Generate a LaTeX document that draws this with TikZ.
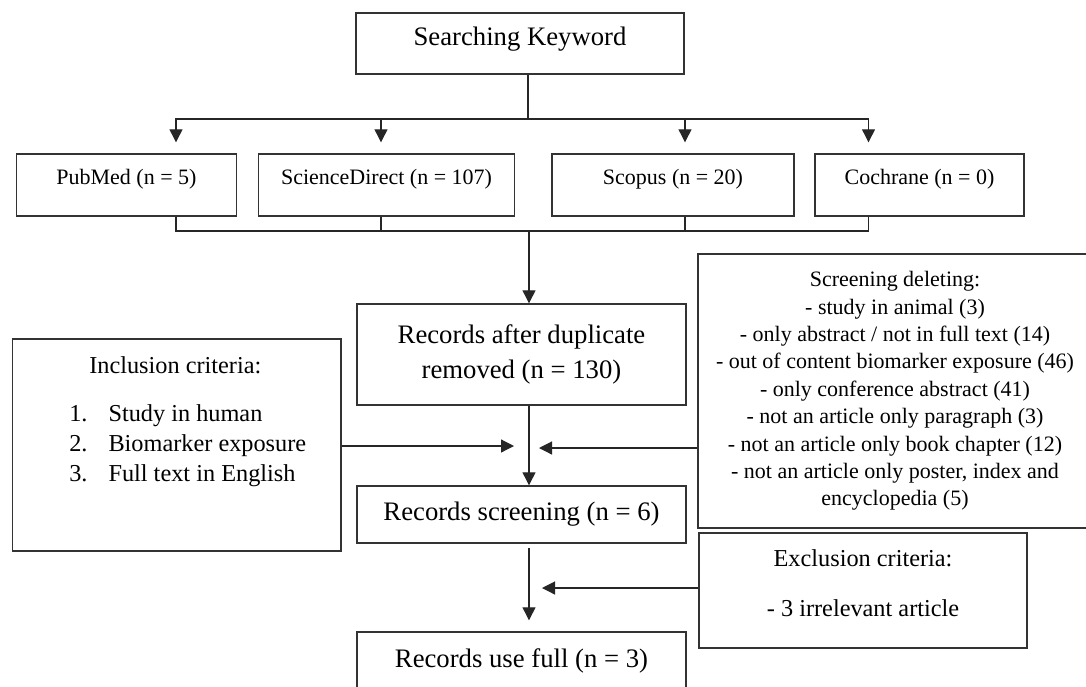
\documentclass[tikz,border=0pt]{standalone}
\usepackage{fontspec}
\setmainfont{Liberation Serif}
\usetikzlibrary{arrows.meta}

\newcommand{\bigtxt}{\fontsize{26.7}{35.7}\selectfont}
\newcommand{\midtxt}{\fontsize{24.3}{30}\selectfont}
\newcommand{\smalltxt}{\fontsize{22}{27.4}\selectfont}

\tikzset{
  box/.style={draw=black!80, line width=1.4pt, inner sep=0pt, align=center, text=black},
  db/.style={box, minimum height=62, text depth=16.7pt, font=\smalltxt},
  link/.style={draw=black!85, line width=1.2pt},
  arr/.style={link, -{Triangle[length=13pt,width=13pt]}},
}

\begin{document}
\begin{tikzpicture}[x=1pt,y=-1pt]
            \useasboundingbox (0,0) rectangle (1086,686);

            \node (kw) [box, minimum width=328, minimum height=61, text depth=14pt, font=\bigtxt] at (520,43.5) {Searching Keyword};

            \node (pub) [db, minimum width=220] at (126.5,185) {PubMed (n = 5)};
            \node (sd) [db, minimum width=256] at (386.5,185) {ScienceDirect (n = 107)};
            \node (sco) [db, minimum width=242] at (673,185) {Scopus (n = 20)};
            \node (coch) [db, minimum width=209] at (919.5,185) {Cochrane (n = 0)};

            \node (rec) [box, minimum width=329, minimum height=101, font=\bigtxt] at (521.5,354.5) {Records after duplicate\\removed (n = 130)};
            \node (scr) [box, minimum width=329, minimum height=57, font=\bigtxt] at (521.5,514.5) {Records screening (n = 6)};
            \node (use) [box, minimum width=329, minimum height=57, font=\bigtxt] at (521.5,660.5) {Records use full (n = 3)};

            \node (incl) [box, align=left, minimum width=328.5, minimum height=212, font=\midtxt] at (176.75,445)
                {\hspace*{42pt}Inclusion criteria:\\[18pt]
                 \hspace*{22pt}1.\hspace{21pt}Study in human\\
                 \hspace*{22pt}2.\hspace{21pt}Biomarker exposure\\
                 \hspace*{22pt}3.\hspace{21pt}Full text in English\\[22pt]\mbox{}};
            \node (del) [box, minimum width=394, minimum height=274, font=\smalltxt] at (895,391)
                {Screening deleting:\\
                 - study in animal (3)\\
                 - only abstract / not in full text (14)\\
                 - out of content biomarker exposure (46)\\
                 - only conference abstract (41)\\
                 - not an article only paragraph (3)\\
                 - not an article only book chapter (12)\\
                 - not an article only poster, index and\\
                 encyclopedia (5)};
            \node (excl) [box, minimum width=328, minimum height=115, font=\midtxt] at (863,590.5)
                {Exclusion criteria:\\[20pt]- 3 irrelevant article\\[-15pt]\mbox{}};

            \coordinate (split) at (528,119);
            \coordinate (merge) at (529,231);
            \coordinate (inTip) at (514,446);
            \coordinate (delTip) at (539,448);
            \coordinate (exTip) at (542,588);

            \draw[link] (kw.south -| split) -- (split);
            \foreach \n/\dx in {pub/49.5, sd/-5.5, sco/12, coch/-51} {
                \draw[arr, shorten >=11pt] (split) -| ([xshift=\dx pt]\n.north);
                \draw[link] ([xshift=\dx pt]\n.south) |- (merge);
            }
            \draw[arr] (merge) -- (merge |- rec.north);
            \draw[arr] (rec.south -| merge) -- (scr.north -| merge);
            \draw[arr, shorten <=4pt, shorten >=11pt] (scr.south -| merge) -- (use.north -| merge);

            \draw[arr] (incl.east |- inTip) -- (inTip);
            \draw[arr] (del.west |- delTip) -- (delTip);
            \draw[arr] (excl.west |- exTip) -- (exTip);
        \end{tikzpicture}
\end{document}
